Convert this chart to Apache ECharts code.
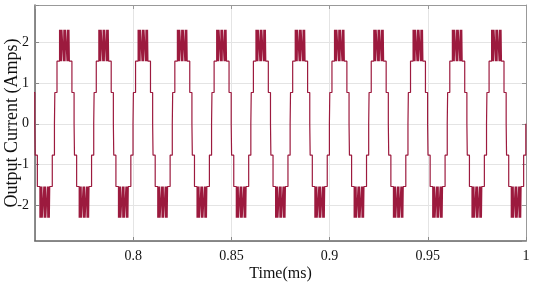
<!DOCTYPE html>
<html>
<head>
<meta charset="utf-8">
<script src="https://cdn.jsdelivr.net/npm/echarts@6/dist/echarts.min.js"></script>
<style>
  html, body { margin: 0; padding: 0; background: #fff; }
  #root { width: 536px; height: 295px; }
</style>
</head>
<body>
<div id="root"></div>
<script>
// rising zero crossings of each cycle (ms)
const cycleStarts = [0.74, 0.76, 0.78, 0.80, 0.82, 0.84, 0.86, 0.88, 0.90, 0.92, 0.94, 0.96, 0.98];
// staircase levels (Amps)
const levels = [0, 0.77, 1.54, 2.31];
// switching instants after a zero crossing: level 1, level 2
const stepOffsets = [0.0001, 0.0012];
// top band PWM: intervals at the highest level, relative to the peak
const pwmHigh = [
    [-0.0025, -0.0023], [-0.0021, -0.0019], [-0.0017, -0.0015], [-0.0013, -0.0005],
    [-0.0003, -0.0001], [0.0001, 0.0003], [0.0005, 0.0013],
    [0.0015, 0.0017], [0.0019, 0.0021], [0.0023, 0.0025]
];
const halfPeriod = 0.01;

let wave = [];
cycleStarts.forEach(z => {
    [1, -1].forEach((sign, h) => {
        let t0 = z + h * halfPeriod;
        let mid = t0 + halfPeriod / 2;
        wave.push([t0 + stepOffsets[0], sign * levels[1]]);
        wave.push([t0 + stepOffsets[1], sign * levels[2]]);
        pwmHigh.forEach(p => {
            wave.push([mid + p[0], sign * levels[3]]);
            wave.push([mid + p[1], sign * levels[2]]);
        });
        wave.push([t0 + halfPeriod - stepOffsets[1], sign * levels[1]]);
        wave.push([t0 + halfPeriod - stepOffsets[0], 0]);
    });
});

let font = 'Liberation Serif';
let root = document.getElementById('root');
let myCharts = echarts.init(root);
let option = {
    backgroundColor: '#fff',
    animation: false,
    grid: { left: 35, right: 10, top: 5, bottom: 54, containLabel: false, outerBoundsMode: 'none' },
    xAxis: [
        {
            type: 'value', min: 0.75, max: 1, interval: 0.05,
            name: 'Time(ms)', nameLocation: 'middle', nameGap: 25, nameMoveOverlap: false,
            nameTextStyle: { fontFamily: font, fontSize: 16, color: '#111' },
            axisLine: { onZero: false, lineStyle: { color: '#666', width: 1.5 } },
            axisTick: { inside: true, length: 4, lineStyle: { color: '#888' } },
            axisLabel: { showMinLabel: false, fontFamily: font, fontSize: 14, color: '#111', margin: 8 },
            splitLine: { show: true, lineStyle: { color: '#e4e4e4' } }
        },
        {
            type: 'value', min: 0.75, max: 1, interval: 0.05, position: 'top',
            axisLine: { onZero: false, lineStyle: { color: '#999', width: 1 } },
            axisTick: { inside: true, length: 4, lineStyle: { color: '#999' } },
            axisLabel: { show: false },
            splitLine: { show: false }
        }
    ],
    yAxis: [
        {
            type: 'value', min: -2.88, max: 2.92,
            name: 'Output Current (Amps)', nameLocation: 'middle', nameGap: 14, nameMoveOverlap: false,
            nameTextStyle: { fontFamily: font, fontSize: 18, color: '#111' },
            axisLine: { show: true, onZero: false, lineStyle: { color: '#666', width: 1.5 } },
            axisTick: { show: true, inside: true, length: 4, lineStyle: { color: '#888' } },
            axisLabel: {
                fontFamily: font, fontSize: 14, color: '#111', margin: 6,
                formatter: v => Number.isInteger(v) ? String(v) : ''
            },
            splitLine: { show: true, lineStyle: { color: '#e4e4e4' } }
        },
        {
            type: 'value', min: -2.88, max: 2.92, position: 'right',
            axisLine: { show: true, onZero: false, lineStyle: { color: '#999', width: 1 } },
            axisTick: { show: true, inside: true, length: 4, lineStyle: { color: '#999' } },
            axisLabel: { show: false },
            splitLine: { show: false }
        }
    ],
    series: [
        {
            type: 'line',
            step: 'end',
            showSymbol: false,
            symbol: 'none',
            data: wave,
            lineStyle: { color: '#9c1a3e', width: 1.2 }
        }
    ]
};
myCharts.setOption(option);
</script>
</body>
</html>
